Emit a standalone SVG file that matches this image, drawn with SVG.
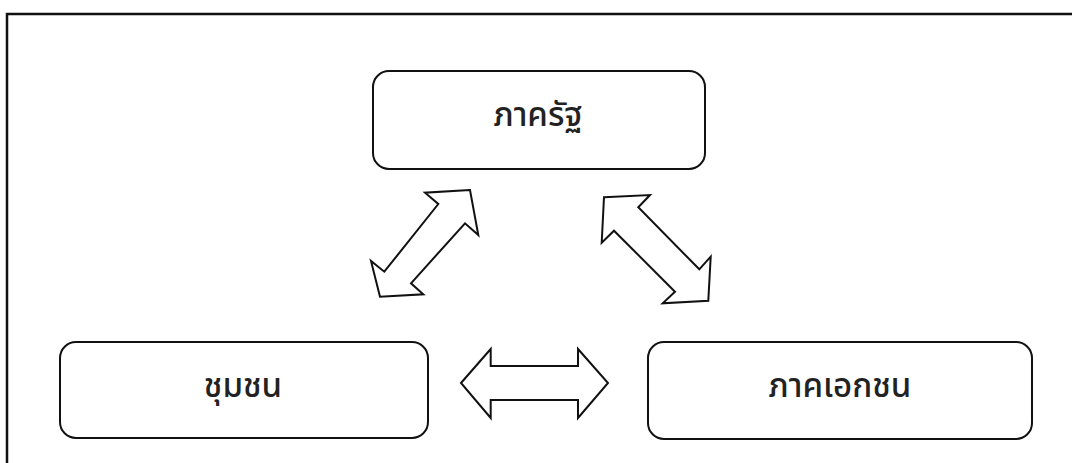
<svg xmlns="http://www.w3.org/2000/svg" width="1072" height="463" viewBox="0 0 1072 463">
  <style>
    .box { fill: #ffffff; stroke: #111111; stroke-width: 2; }
    .label { font-family: "Noto Sans Thai", "Noto Sans", "DejaVu Sans", sans-serif; font-size: 33px; font-weight: 500; fill: #222222; text-anchor: middle; }
    .arrow { fill: #ffffff; stroke: #111111; stroke-width: 2; stroke-linejoin: miter; }
    .frame { fill: none; stroke: #111111; stroke-width: 2.5; }
  </style>
  <rect width="1072" height="463" fill="#ffffff"/>

  <!-- page frame: top rule and left rule -->
  <g id="frame">
    <path class="frame" d="M7 463 V14 H1072"/>
  </g>

  <g id="node-state">
    <rect class="box" x="373" y="71" width="332" height="98" rx="16"/>
    <text class="label" x="538" y="126">ภาครัฐ</text>
  </g>

  <g id="node-community">
    <rect class="box" x="60" y="342" width="368" height="96" rx="16"/>
    <text class="label" x="243" y="397">ชุมชน</text>
  </g>

  <g id="node-private">
    <rect class="box" x="648" y="342" width="384" height="97" rx="16"/>
    <text class="label" x="840" y="397">ภาคเอกชน</text>
  </g>

  <!-- block double arrows between the three sectors -->
  <g id="connectors">
    <polygon class="arrow" points="470,190 425,192.7 438.3,204 384.3,271.7 371,261 380,296.7 423.3,294.3 411,283.3 465,223.3 478.3,235"/>
    <polygon class="arrow" points="604,197.3 650,195 638.3,207.3 699.3,269.3 710.7,256.7 708.3,300.7 662.7,303.3 675,291.7 614,230.7 601.7,242.7"/>
    <polygon class="arrow" points="461,383 490.7,349 490.7,366 578,366 578,349 608,383 578,418 578,400 490.7,400 490.7,418"/>
  </g>
</svg>
